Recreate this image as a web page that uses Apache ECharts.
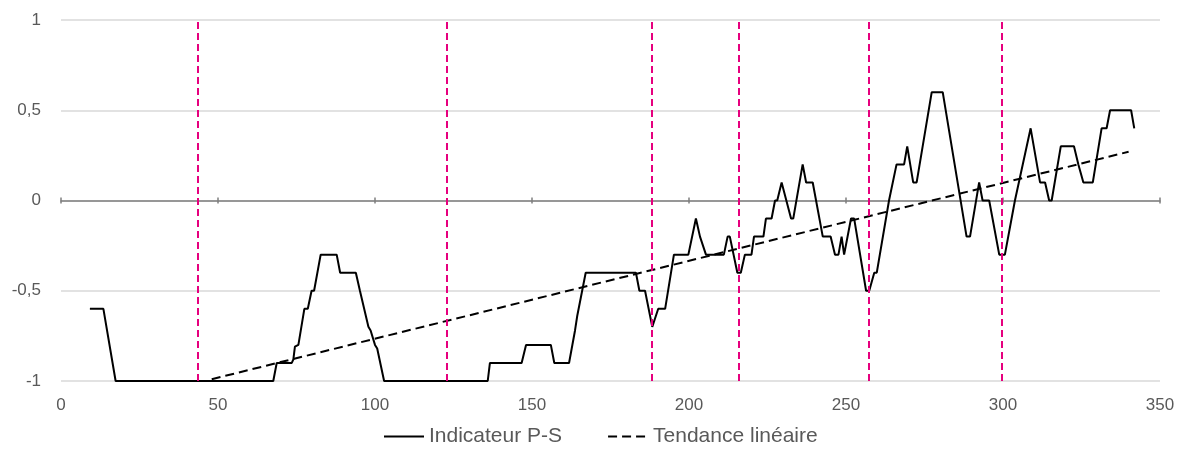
<!DOCTYPE html>
<html>
<head>
<meta charset="utf-8">
<script src="https://cdn.jsdelivr.net/npm/echarts@6/dist/echarts.min.js"></script>
<style>
  html, body { margin: 0; padding: 0; background: #fff; }
  #chart { width: 1192px; height: 464px; }
</style>
</head>
<body>
<div id="chart"></div>
<script>
// indicateur P-S : sommets de la courbe (x, valeur)
const psX = [9.2, 13.5, 17.4, 67.6, 68.7, 73.5, 74, 74.5, 75.6, 77.5, 78.6, 79.8, 80.6, 82.7, 87.8, 88.9, 93.9, 95.2, 97.9, 98.6,
  100, 100.7, 102.9, 135.9, 136.6, 146.7, 148.1, 156, 157.1, 161.8, 163.7, 164.4, 167.1, 183.1, 184.2, 186, 188.3, 190.2, 192.4, 195.2,
  199.8, 202.2, 203.5, 205.4, 211.1, 212.3, 213, 215.4, 216.5, 217.8, 219.9, 220.7, 223.7, 224.5, 226.3, 227.4, 228.1, 229.5, 232.5, 233.2,
  236.2, 237.3, 239.4, 242.6, 245.1, 246.5, 247.6, 248.6, 249.4, 251.6, 252.6, 256.4, 257.4, 259, 259.8, 263.7, 264.3, 266.1, 268.5, 269.5,
  271.4, 272.5, 277.3, 280.8, 288.4, 289.5, 292.4, 293.5, 295.6, 298.8, 300.6, 303.8, 308.8, 311.8, 313.4, 314.7, 315.5, 318.4, 322.6, 324,
  325.6, 328.6, 331.4, 333, 334.1, 340.8, 341.8];
const psY = [-0.6, -0.6, -1, -1, -0.9, -0.9, -0.88, -0.81, -0.8, -0.6, -0.6, -0.5, -0.5, -0.3, -0.3, -0.4, -0.4, -0.5, -0.7, -0.72,
  -0.8, -0.82, -1, -1, -0.9, -0.9, -0.8, -0.8, -0.9, -0.9, -0.72, -0.64, -0.4, -0.4, -0.5, -0.5, -0.7, -0.6, -0.6, -0.3,
  -0.3, -0.1, -0.2, -0.3, -0.3, -0.2, -0.2, -0.4, -0.4, -0.3, -0.3, -0.2, -0.2, -0.1, -0.1, 0, 0, 0.1, -0.1, -0.1,
  0.2, 0.1, 0.1, -0.2, -0.2, -0.3, -0.3, -0.2, -0.3, -0.1, -0.1, -0.5, -0.5, -0.4, -0.4, 0, 0, 0.2, 0.2, 0.3,
  0.1, 0.1, 0.6, 0.6, -0.2, -0.2, 0.1, 0, 0, -0.3, -0.3, 0, 0.4, 0.1, 0.1, 0, 0, 0.3, 0.3, 0.2,
  0.1, 0.1, 0.4, 0.4, 0.5, 0.5, 0.4];

// tendance linéaire
const trendX = [48, 340];
const trendY = [-0.99, 0.27];

// lignes verticales roses
const markerX = [43.7, 123, 188.2, 216, 257.3, 299.5];

const seriesNames = ['Indicateur P-S', 'Tendance linéaire'];

const labelColor = '#595959';
const fontFamily = 'Liberation Sans, Arial, sans-serif';

let myChart = echarts.init(document.getElementById('chart'));

const xBase = { type: 'value', min: 0, max: 350, interval: 50, gridIndex: 0 };
const yBase = { type: 'value', min: -1, max: 1, interval: 0.5, gridIndex: 0 };

let option = {
  animation: false,
  textStyle: { fontFamily: fontFamily },
  grid: { left: 61, right: 32, top: 20, bottom: 83 },
  legend: {
    left: 378,
    top: 421,
    itemWidth: 40,
    itemHeight: 14,
    itemGap: 45,
    itemStyle: { opacity: 0 },
    textStyle: { fontSize: 21, color: labelColor, fontFamily: fontFamily },
    data: seriesNames
  },
  xAxis: [
    // étiquettes en bas
    Object.assign({}, xBase, {
      position: 'bottom',
      axisLine: { show: false, onZero: false },
      axisTick: { show: false },
      splitLine: { show: false },
      axisLabel: { color: labelColor, fontSize: 17, margin: 16 }
    }),
    // ligne du zéro avec graduations (dessous)
    Object.assign({}, xBase, {
      position: 'bottom',
      axisLine: { show: true, onZero: true, onZeroAxisIndex: 0, lineStyle: { color: '#7f7f7f', width: 1.5 } },
      axisTick: { show: true, inside: false, length: 3, lineStyle: { color: '#7f7f7f', width: 1.5 } },
      splitLine: { show: false },
      axisLabel: { show: false }
    }),
    // graduations au-dessus de la ligne du zéro
    Object.assign({}, xBase, {
      position: 'bottom',
      axisLine: { show: true, onZero: true, onZeroAxisIndex: 1, lineStyle: { color: 'rgba(0,0,0,0)', width: 1 } },
      axisTick: { show: true, inside: true, length: 3, lineStyle: { color: '#7f7f7f', width: 1.5 } },
      splitLine: { show: false },
      axisLabel: { show: false }
    })
  ],
  yAxis: [
    Object.assign({}, yBase, {
      position: 'left',
      axisLine: { show: false },
      axisTick: { show: false },
      splitLine: { lineStyle: { color: '#d9d9d9', width: 1.5 } },
      axisLabel: {
        color: labelColor,
        fontSize: 17,
        margin: 20,
        formatter: v => String(v).replace('.', ',')
      }
    }),
    // axe caché, sert seulement de repère pour le zéro
    Object.assign({}, yBase, {
      position: 'left',
      show: false,
      splitLine: { show: false }
    })
  ],
  series: [
    {
      name: seriesNames[0],
      type: 'line',
      xAxisIndex: 0,
      yAxisIndex: 0,
      symbol: 'none',
      lineStyle: { color: '#000', width: 2 },
      itemStyle: { color: '#000' },
      data: psX.map((x, i) => [x, psY[i]]),
      z: 3,
      markLine: {
        silent: true,
        symbol: 'none',
        label: { show: false },
        lineStyle: { color: '#e6007e', type: [7, 4], width: 2 },
        data: markerX.map(x => ({ xAxis: x }))
      }
    },
    {
      name: seriesNames[1],
      type: 'line',
      xAxisIndex: 0,
      yAxisIndex: 0,
      symbol: 'none',
      lineStyle: { color: '#000', width: 2, type: [9, 5] },
      itemStyle: { color: '#000' },
      data: trendX.map((x, i) => [x, trendY[i]]),
      z: 4
    }
  ]
};
myChart.setOption(option);
</script>
</body>
</html>
